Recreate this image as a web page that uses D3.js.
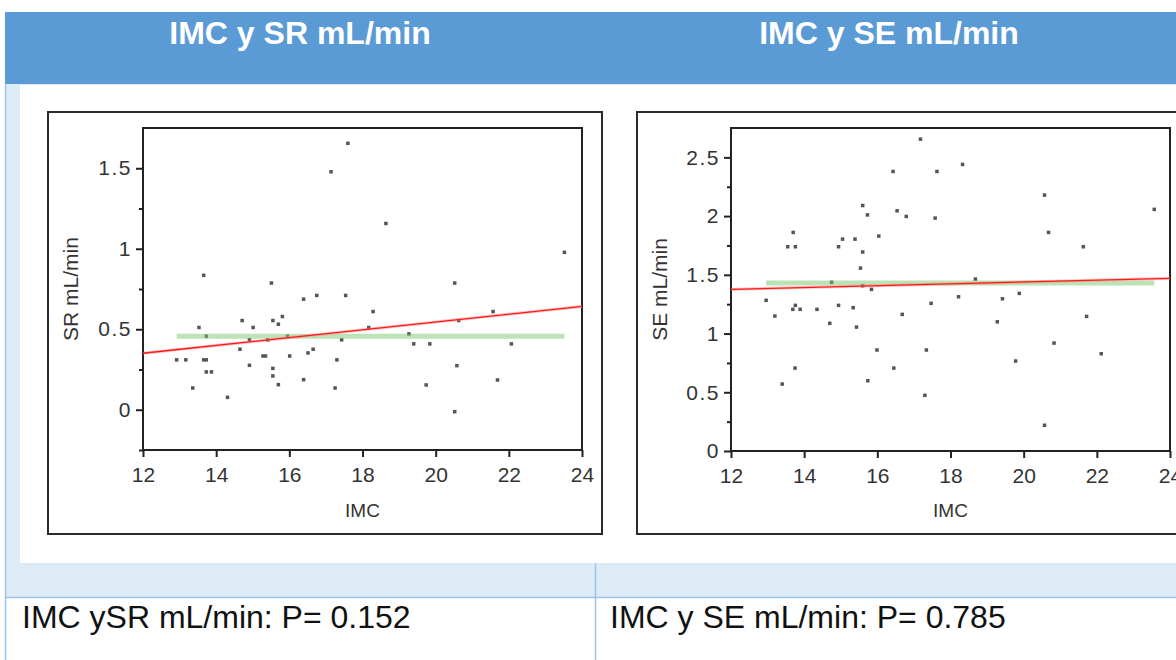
<!DOCTYPE html>
<html><head><meta charset="utf-8">
<script src="https://cdn.jsdelivr.net/npm/d3@7"></script>
<style>
html,body{margin:0;padding:0;background:#fff;}
svg{display:block;font-family:"Liberation Sans",Arial,sans-serif;}
</style></head>
<body>
<svg id="c" width="1176" height="660"></svg>
<script>
// ---------- DATA ----------
const titles = ["IMC y SR mL/min", "IMC y SE mL/min"];
const footers = ["IMC ySR mL/min: P= 0.152", "IMC y SE mL/min: P= 0.785"];
const xLabel = "IMC";
const yLabels = ["SR mL/min", "SE mL/min"];
const xTicks = [12, 14, 16, 18, 20, 22, 24];
const srTicks = [0, 0.5, 1, 1.5];
const srMinor = [-0.25, 0.25, 0.75, 1.25];
const seTicks = [0, 0.5, 1, 1.5, 2, 2.5];
const seMinor = [0.25, 0.75, 1.25, 1.75, 2.25];

const srIMC = [13.66,15.51,16.39,16.75,17.54,13.53,14.71,15.01,15.55,15.81,15.70,18.17,13.73,15.95,14.91,15.41,17.43,14.65,16.51,16.65,12.92,13.17,13.66,13.73,15.28,15.35,16.01,17.30,14.91,15.55,13.73,13.87,15.55,15.70,16.39,13.36,17.25,14.31,17.60,17.14,18.64,23.52,20.52,18.29,21.57,20.63,19.27,19.40,19.84,22.07,20.58,19.74,21.69,20.52];
const srVal = [0.835,0.787,0.687,0.71,0.71,0.511,0.554,0.511,0.554,0.579,0.531,0.511,0.457,0.457,0.434,0.434,0.434,0.376,0.353,0.376,0.31,0.31,0.31,0.31,0.334,0.334,0.334,0.31,0.276,0.257,0.235,0.235,0.21,0.156,0.187,0.135,0.135,0.077,1.655,1.478,1.157,0.978,0.787,0.61,0.61,0.554,0.471,0.409,0.409,0.409,0.274,0.154,0.185,-0.012];

const seIMC = [17.18,16.43,17.63,18.33,15.60,15.73,16.54,16.79,17.58,13.70,13.55,13.76,14.94,15.05,15.39,16.04,15.60,15.54,14.75,15.60,15.84,18.68,12.96,13.20,13.76,13.69,13.89,14.35,14.94,15.34,14.70,15.43,16.68,17.47,18.22,15.99,17.34,20.57,20.68,21.63,23.57,19.88,19.42,21.72,19.28,20.83,19.78,22.12,16.45,13.75,13.40,15.74,17.30,20.57];
const seVal = [2.655,2.38,2.38,2.44,2.09,2.01,2.045,1.997,1.983,1.861,1.739,1.739,1.739,1.804,1.804,1.83,1.694,1.557,1.436,1.407,1.376,1.464,1.283,1.149,1.24,1.206,1.206,1.206,1.24,1.22,1.087,1.055,1.163,1.257,1.313,0.86,0.86,2.179,1.861,1.739,2.057,1.342,1.296,1.146,1.10,0.919,0.766,0.828,0.706,0.706,0.570,0.598,0.474,0.219];

// regression line (values at x = 12 and x = 24) and mean line
const srFit = [0.351, 0.642];
const seFit = [1.376, 1.470];
const srMean = 0.457;
const seMean = 1.43;

// ---------- LAYOUT ----------
const svg = d3.select("#c");
const BLUE = "#5B9BD5", LIGHT = "#DDEBF7", BORDER = "#9DC3E6";

svg.append("rect").attr("x",5).attr("y",12).attr("width",1171).attr("height",72).attr("fill",BLUE);
svg.append("rect").attr("x",5).attr("y",84).attr("width",1171).attr("height",513).attr("fill",LIGHT);
svg.append("rect").attr("x",20).attr("y",85).attr("width",1156).attr("height",478).attr("fill","#fff");
svg.append("line").attr("x1",5).attr("x2",1176).attr("y1",597.5).attr("y2",597.5).attr("stroke",BORDER).attr("stroke-width",1.5);
svg.append("line").attr("x1",595.5).attr("x2",595.5).attr("y1",563).attr("y2",660).attr("stroke",BORDER).attr("stroke-width",1.5);
svg.append("line").attr("x1",5.5).attr("x2",5.5).attr("y1",84).attr("y2",660).attr("stroke",BORDER).attr("stroke-width",1.5);

const colCenters = [300, 889];
const footX = [22, 610];
titles.forEach((t,i)=>{
  svg.append("text").attr("x",colCenters[i]).attr("y",44).attr("text-anchor","middle")
    .attr("fill","#fff").attr("font-weight","bold").attr("font-size",32).text(t);
  svg.append("text").attr("x",footX[i]).attr("y",628).attr("fill","#111")
    .attr("font-size",32).text(footers[i]);
});

const panels = [
  {frame:[48,112,554,422], xr:[143,582], yr:[450,128], yd:[-0.25,1.75], major:srTicks, minor:srMinor,
   xs:srIMC, ys:srVal, fit:srFit, mean:srMean, ylab:yLabels[0], ylabX:78},
  {frame:[637,112,600,422], xr:[731,1170], yr:[451,128], yd:[0,2.75], major:seTicks, minor:seMinor,
   xs:seIMC, ys:seVal, fit:seFit, mean:seMean, ylab:yLabels[1], ylabX:667}
];

panels.forEach(p=>{
  const g = svg.append("g");
  const [fx,fy,fw,fh] = p.frame;
  g.append("rect").attr("x",fx).attr("y",fy).attr("width",fw).attr("height",fh)
    .attr("fill","none").attr("stroke","#2b2b2b").attr("stroke-width",2);

  const x = d3.scaleLinear().domain([12,24]).range(p.xr);
  const y = d3.scaleLinear().domain(p.yd).range(p.yr);

  g.append("rect").attr("x",p.xr[0]).attr("y",p.yr[1]).attr("width",p.xr[1]-p.xr[0]).attr("height",p.yr[0]-p.yr[1])
    .attr("fill","#fff").attr("stroke","#222").attr("stroke-width",2);

  // points
  g.append("g").selectAll("rect").data(p.xs.map((v,i)=>[v,p.ys[i]])).join("rect")
    .attr("x",d=>x(d[0])-1.75).attr("y",d=>y(d[1])-1.75).attr("width",3.5).attr("height",3.5)
    .attr("fill","#555");

  // mean line (green)
  const xmin = d3.min(p.xs), xmax = d3.max(p.xs);
  g.append("line").attr("x1",x(xmin)).attr("x2",x(xmax)).attr("y1",y(p.mean)).attr("y2",y(p.mean))
    .attr("stroke","rgb(120,200,110)").attr("stroke-opacity",0.5).attr("stroke-width",5);
  // fit line (red)
  g.append("line").attr("x1",x(12)).attr("x2",x(24)).attr("y1",y(p.fit[0])).attr("y2",y(p.fit[1]))
    .attr("stroke","#ff8080").attr("stroke-opacity",0.5).attr("stroke-width",3);
  g.append("line").attr("x1",x(12)).attr("x2",x(24)).attr("y1",y(p.fit[0])).attr("y2",y(p.fit[1]))
    .attr("stroke","#ff1a1a").attr("stroke-width",1.3);

  // axes
  const ax = g.append("g").attr("transform",`translate(0,${p.yr[0]})`)
    .call(d3.axisBottom(x).tickValues(xTicks).tickSize(7).tickPadding(10).tickFormat(d3.format("d")));
  const ay = g.append("g").attr("transform",`translate(${p.xr[0]},0)`)
    .call(d3.axisLeft(y).tickValues(p.major).tickSize(7).tickPadding(4).tickFormat(d3.format("")));
  const ayMinor = g.append("g").attr("transform",`translate(${p.xr[0]},0)`)
    .call(d3.axisLeft(y).tickValues(p.minor).tickSize(4).tickFormat(""));
  [ax,ay,ayMinor].forEach(a=>{
    a.select(".domain").remove();
    a.selectAll("line").attr("stroke","#222").attr("stroke-width",2);
    a.selectAll("text").attr("font-size",21).attr("fill","#333").attr("font-family","Liberation Sans, Arial, sans-serif");
  });
  ay.selectAll("text").attr("letter-spacing",1.5);

  g.append("text").attr("x",(p.xr[0]+p.xr[1])/2).attr("y",517).attr("text-anchor","middle")
    .attr("font-size",19).attr("fill","#333").text(xLabel);
  g.append("text").attr("transform",`translate(${p.ylabX},${(p.yr[0]+p.yr[1])/2}) rotate(-90)`)
    .attr("text-anchor","middle").attr("font-size",21).attr("fill","#333").text(p.ylab);
});
</script>
</body></html>
